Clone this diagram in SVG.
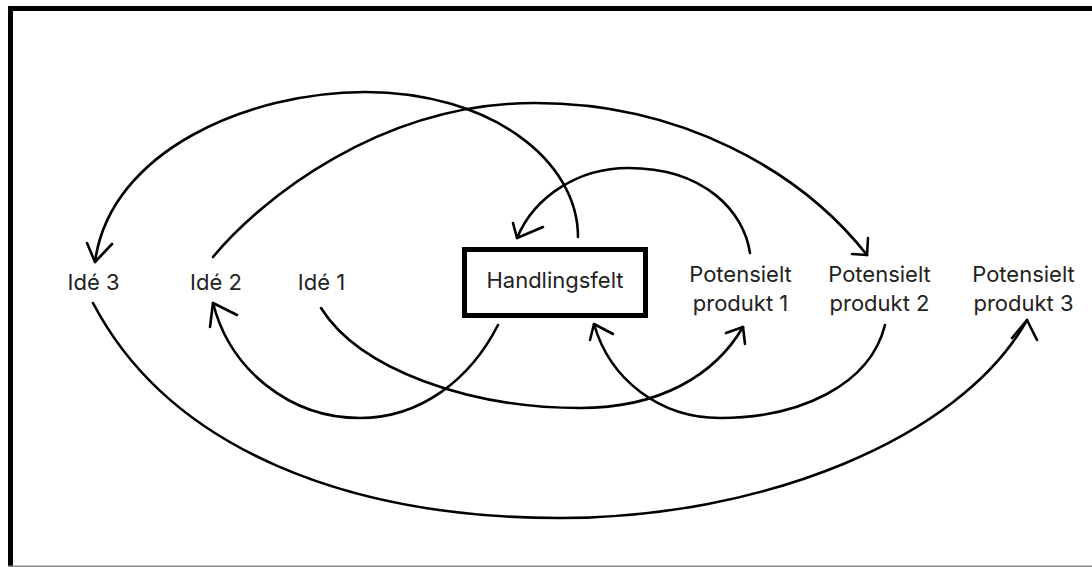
<svg xmlns="http://www.w3.org/2000/svg" width="1092" height="567" viewBox="0 0 1092 567">
<style>
.lbl{font-family:Inter,"Liberation Sans",Arial,sans-serif;font-size:22px;fill:#222;text-anchor:middle}
.c{fill:none;stroke:#000;stroke-width:2.6;stroke-linecap:round}
.head{fill:none;stroke:#000;stroke-width:2.6;stroke-linecap:round;stroke-linejoin:round}
</style>
<rect x="0" y="0" width="1092" height="567" fill="#fff"/>
<path d="M10.5,567 L10.5,8.5 L1092,8.5" fill="none" stroke="#000" stroke-width="5"/>
<line x1="8" y1="566.3" x2="1092" y2="566.3" stroke="#888" stroke-width="1.5"/>

<g id="connectors">
  <!-- Handlingsfelt -> Idé 3 -->
  <path class="c" d="M578,237 C578,160 490,92 365,92 C250,92 110,150 95,262"/>
  <polyline class="head" points="87,243 95,262 112,244"/>
  <!-- Idé 2 -> Potensielt produkt 2 -->
  <path class="c" d="M213,257 C260,200 380,103 535,103 C680,103 800,170 867,255"/>
  <polyline class="head" points="852,254 867,255 868,238"/>
  <!-- Potensielt produkt 1 -> Handlingsfelt -->
  <path class="c" d="M750,253 C744,212 705,168 628,168 C580,168 535,195 517,238"/>
  <polyline class="head" points="513,223 517,238 543,227"/>
  <!-- Handlingsfelt -> Idé 2 -->
  <path class="c" d="M498,325 C470,380 420,418 360,418 C290,418 230,370 213,303"/>
  <polyline class="head" points="210,327 213,303 237,315"/>
  <!-- Idé 1 -> Potensielt produkt 1 -->
  <path class="c" d="M321,308 C360,370 470,408 580,408 C660,408 715,375 743,327"/>
  <polyline class="head" points="726,333 743,327 745,344"/>
  <!-- Potensielt produkt 2 -> Handlingsfelt -->
  <path class="c" d="M885,325 C870,385 800,418 720,418 C660,418 610,380 594,324"/>
  <polyline class="head" points="590,340 594,324 613,334"/>
  <!-- Idé 3 -> Potensielt produkt 3 -->
  <path class="c" d="M93,303 C170,450 350,518 560,518 C760,518 960,440 1027,320"/>
  <polyline class="head" points="1012,338 1027,320 1037,340"/>
</g>

<g id="ide3"><text class="lbl" x="93.5" y="290">Idé 3</text></g>
<g id="ide2"><text class="lbl" x="216" y="290">Idé 2</text></g>
<g id="ide1"><text class="lbl" x="321.5" y="290">Idé 1</text></g>
<g id="handlingsfelt">
  <rect x="464.5" y="249.5" width="181" height="66" fill="#fff" stroke="#000" stroke-width="5"/>
  <text class="lbl" x="555" y="288">Handlingsfelt</text>
</g>
<g id="produkt1"><text class="lbl" x="740.5" y="282">Potensielt</text><text class="lbl" x="740.5" y="311">produkt 1</text></g>
<g id="produkt2"><text class="lbl" x="879.5" y="282">Potensielt</text><text class="lbl" x="879.5" y="311">produkt 2</text></g>
<g id="produkt3"><text class="lbl" x="1023.5" y="282">Potensielt</text><text class="lbl" x="1023.5" y="311">produkt 3</text></g>
</svg>
